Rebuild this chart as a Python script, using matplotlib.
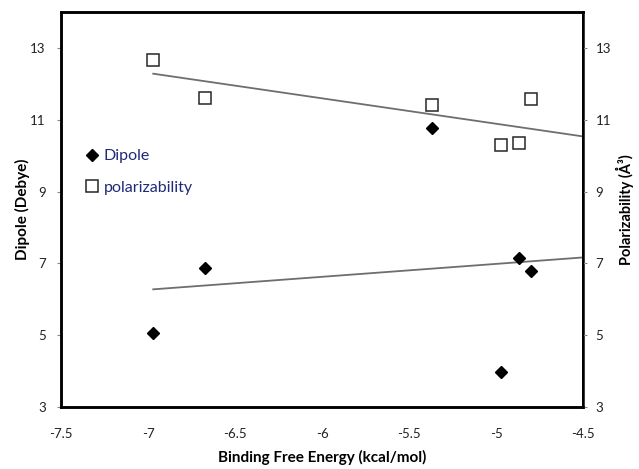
import numpy as np
import matplotlib
matplotlib.use('Agg')
import matplotlib.pyplot as plt

# binding free energy (kcal/mol)
energy = [-6.97, -6.67, -5.37, -4.97, -4.87, -4.80]
# dipole (Debye)
dipole = [5.07, 6.87, 10.77, 3.97, 7.16, 6.78]
# polarizability (A^3)
polar = [12.67, 11.62, 11.41, 10.31, 10.35, 11.58]

xticks = [-7.5, -7, -6.5, -6, -5.5, -5, -4.5]
yticks = [3, 5, 7, 9, 11, 13]

plt.rcParams['font.family'] = ['Lato', 'DejaVu Sans']

fig = plt.figure(figsize=(6.39, 4.69), dpi=100)
ax = fig.add_axes([0.0955, 0.132, 0.817, 0.842])
ax2 = ax.twinx()

ax.plot(energy, dipole, linestyle='none', marker='D', markersize=6,
        color='black', label='Dipole', zorder=3)
ax2.plot(energy, polar, linestyle='none', marker='s', markersize=8.5,
         markerfacecolor='white', markeredgecolor='#262626', markeredgewidth=1.1,
         label='polarizability', zorder=3)

# linear trendlines, extended forward to the axis end
xs = np.array([min(energy), -4.5])
k, b = np.polyfit(energy, dipole, 1)
ax.plot(xs, k * xs + b, color='#6e6e6e', linewidth=1.3, zorder=2)
k, b = np.polyfit(energy, polar, 1)
ax2.plot(xs, k * xs + b, color='#6e6e6e', linewidth=1.3, zorder=2)

ax.set_xlim(-7.5, -4.5)
ax.set_ylim(3, 14)
ax2.set_ylim(3, 14)
ax.set_xticks(xticks)
ax.set_xticklabels(['%g' % t for t in xticks])
ax.set_yticks(yticks)
ax2.set_yticks(yticks)

for a in (ax, ax2):
    for s in a.spines.values():
        s.set_linewidth(1.8)
        s.set_color('black')
ax2.spines['right'].set_linewidth(1.4)

ax.tick_params(axis='x', length=0, pad=15, labelsize=9.5, labelcolor='#222222')
ax.tick_params(axis='y', length=3, width=0.8, color='#888888', pad=8,
               labelsize=9.5, labelcolor='#222222')
ax2.tick_params(axis='y', length=3, width=0.8, color='#888888', pad=6,
                labelsize=9.5, labelcolor='#222222')

ax.set_xlabel('Binding Free Energy (kcal/mol)', fontsize=11, fontweight='bold')
ax.set_ylabel('Dipole (Debye)', fontsize=11, fontweight='bold')
ax2.set_ylabel('Polarizability (Å³)', fontsize=10.5, fontweight='bold')
ax.xaxis.set_label_coords(0.5, -0.108)
ax.yaxis.set_label_coords(-0.06, 0.5)
ax2.yaxis.set_label_coords(1.062, 0.5)

h1, l1 = ax.get_legend_handles_labels()
h2, l2 = ax2.get_legend_handles_labels()
leg = ax2.legend(h1 + h2, l1 + l2, loc='upper left', bbox_to_anchor=(0.02, 0.69),
                 frameon=False, fontsize=11.5, handlelength=0.8, handletextpad=0.3,
                 labelspacing=1.1)
for t in leg.get_texts():
    t.set_color('#1f2a7a')

fig.savefig('out.png', dpi=100)
